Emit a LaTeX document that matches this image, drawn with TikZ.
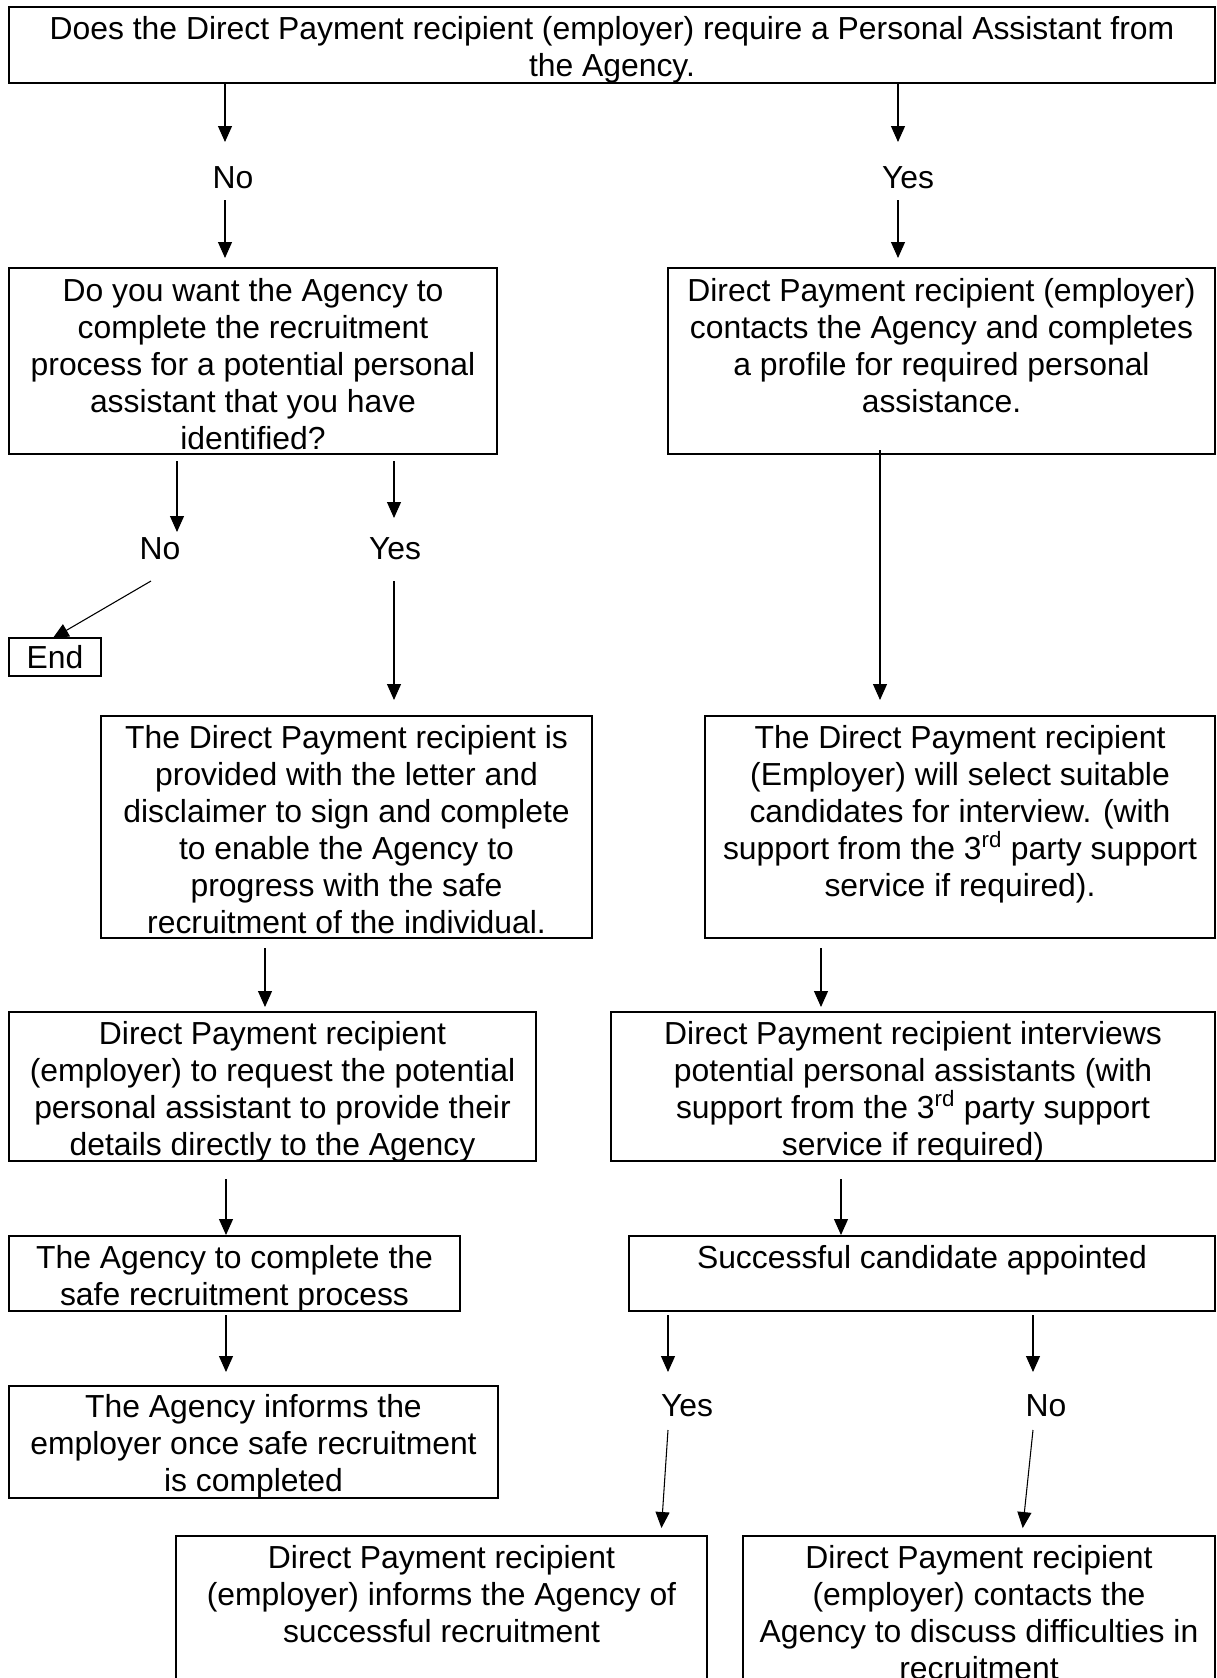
\documentclass[tikz,border=0pt]{standalone}
\usepackage{fontspec}
\setmainfont{Liberation Sans}
\usetikzlibrary{arrows.meta,fit}
\newcommand\fsz{\fontsize{23.9pt}{27.75pt}\selectfont}
\begin{document}
\begin{tikzpicture}[x=0.75pt,y=-0.75pt,
  box/.style={draw, line width=1.5pt, inner sep=0pt},
  txt/.style={align=center, anchor=north, inner sep=0pt, font=\fsz},
  lbl/.style={anchor=base, inner sep=0pt, font=\fsz},
  arr/.style={line width=0.8pt, -{Triangle[length=12pt,width=10.5pt]}}]
\fill[white] (0,0) rectangle (1217,1678);
\path[use as bounding box] (0,0) rectangle (1217,1678);
\clip (0,0) rectangle (1217,1678);

% boxes
\node[box, fit={(9,7) (1215,83)}] (T) {};
\node[txt] (Tt) at (612,13) {\strut Does the Direct Payment recipient (employer) require a Personal Assistant from\\the Agency.};

\node[box, fit={(9,268) (497,454)}] (A) {};
\node[txt] (At) at (253,275) {\strut Do you want the Agency to\\complete the recruitment\\process for a potential personal\\assistant that you have\\identified?};

\node[box, fit={(668,268) (1215,454)}] (B) {};
\node[txt] (Bt) at (941.5,275) {\strut Direct Payment recipient (employer)\\contacts the Agency and completes\\a profile for required personal\\assistance.};

\node[box, fit={(9,638) (101,676)}] (End) {};
\node[lbl] (Endt) at (55,668) {End};

\node[box, fit={(101,716) (592,938)}] (C) {};
\node[txt] (Ct) at (346.5,722) {\strut The Direct Payment recipient is\\provided with the letter and\\disclaimer to sign and complete\\to enable the Agency to\\progress with the safe\\recruitment of the individual.};

\node[box, fit={(705,716) (1215,938)}] (D) {};
\node[txt] (Dt) at (960,722) {\strut The Direct Payment recipient\\(Employer) will select suitable\\candidates for interview. (with\\support from the 3\textsuperscript{rd} party support\\service if required).};

\node[box, fit={(9,1012) (536,1161)}] (E) {};
\node[txt] (Et) at (272.5,1018) {\strut Direct Payment recipient\\(employer) to request the potential\\personal assistant to provide their\\details directly to the Agency};

\node[box, fit={(611,1012) (1215,1161)}] (F) {};
\node[txt] (Ft) at (913,1018) {\strut Direct Payment recipient interviews\\potential personal assistants (with\\support from the 3\textsuperscript{rd} party support\\service if required)};

\node[box, fit={(9,1236) (460,1311)}] (G) {};
\node[txt] (Gt) at (234.5,1242) {\strut The Agency to complete the\\safe recruitment process};

\node[box, fit={(629,1236) (1215,1311)}] (H) {};
\node[txt] (Ht) at (922,1242) {\strut Successful candidate appointed};

\node[box, fit={(9,1386) (498,1498)}] (I) {};
\node[txt] (It) at (253.5,1391) {\strut The Agency informs the\\employer once safe recruitment\\is completed};

\node[box, fit={(176,1536) (707,1720)}] (J) {};
\node[txt] (Jt) at (441.5,1542) {\strut Direct Payment recipient\\(employer) informs the Agency of\\successful recruitment};

\node[box, fit={(743,1536) (1215,1720)}] (K) {};
\node[txt] (Kt) at (979,1542) {\strut Direct Payment recipient\\(employer) contacts the\\Agency to discuss difficulties in\\recruitment};

% labels
\node[lbl] (No1) at (233,188) {No};
\node[lbl] (Yes1) at (908,188) {Yes};
\node[lbl] (No2) at (160,559) {No};
\node[lbl] (Yes2) at (395,559) {Yes};
\node[lbl] (Yes3) at (687,1416) {Yes};
\node[lbl] (No3) at (1046,1416) {No};

% connector points
\coordinate (a1) at (225,142);
\coordinate (a2) at (225,200);
\coordinate (a3) at (898,142);
\coordinate (a4) at (898,200);
\coordinate (a5) at (177,532);
\coordinate (a6) at (394,518);
\coordinate (a7) at (151,581);
\coordinate (a8) at (394,581);
\coordinate (a9) at (880,450);
\coordinate (a10) at (265,0);
\coordinate (a11) at (821,0);
\coordinate (a12) at (226,0);
\coordinate (a13) at (841,0);
\coordinate (a14) at (226,0);
\coordinate (a15) at (668,1372);
\coordinate (a16) at (1033,1372);
\coordinate (a17) at (668,1430);
\coordinate (a17t) at (661,0);
\coordinate (a18) at (1033,1430);
\coordinate (a18t) at (1022,0);

% connectors
\draw[arr] (T.south -| a1) -- (a1);
\draw[arr, shorten >=6.75pt] (a2) -- (A.north -| a2);
\draw[arr] (T.south -| a3) -- (a3);
\draw[arr, shorten >=6.75pt] (a4) -- (B.north -| a4);
\draw[arr, shorten <=4.5pt] (A.south -| a5) -- (a5);
\draw[arr, shorten <=4.5pt] (A.south -| a6) -- (a6);
\draw[arr, shorten >=-2pt] (a7) -- (End.north);
\draw[arr, shorten >=11.25pt] (a8) -- (C.north -| a8);
\draw[arr, shorten >=11.25pt] (a9) -- (D.north -| a9);
\draw[arr, shorten <=6.75pt, shorten >=3pt] (C.south -| a10) -- (E.north -| a10);
\draw[arr, shorten <=6.75pt, shorten >=3pt] (D.south -| a11) -- (F.north -| a11);
\draw[arr, shorten <=12.75pt] (E.south -| a12) -- (G.north -| a12);
\draw[arr, shorten <=12.75pt] (F.south -| a13) -- (H.north -| a13);
\draw[arr, shorten <=2.25pt, shorten >=9.75pt] (G.south -| a14) -- (I.north -| a14);
\draw[arr, shorten <=2.25pt] (H.south -| a15) -- (a15);
\draw[arr, shorten <=2.25pt] (H.south -| a16) -- (a16);
\draw[arr, shorten >=5.25pt] (a17) -- (J.north -| a17t);
\draw[arr, shorten >=5.25pt] (a18) -- (K.north -| a18t);
\end{tikzpicture}
\end{document}
